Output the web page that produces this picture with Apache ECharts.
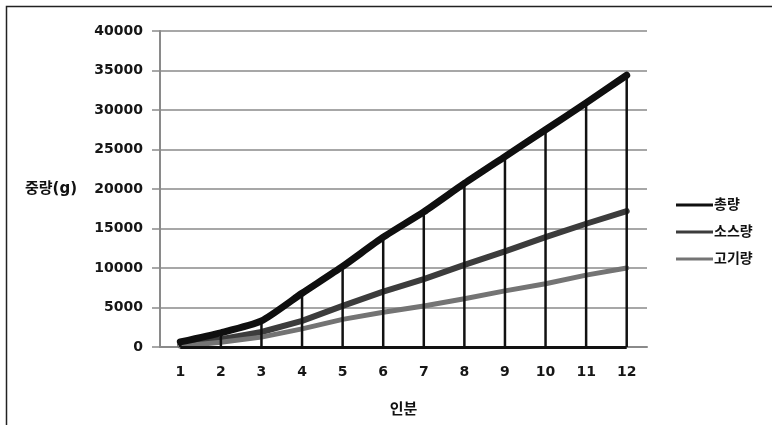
<!DOCTYPE html>
<html>
<head>
<meta charset="utf-8">
<script src="https://cdn.jsdelivr.net/npm/echarts@6/dist/echarts.min.js"></script>
<style>
  html, body { margin: 0; padding: 0; background: #fff; }
  #chart { width: 772px; height: 425px; }
</style>
</head>
<body>
<div id="chart"></div>
<script>
// 인분별 중량 (g)
const servings = ['1', '2', '3', '4', '5', '6', '7', '8', '9', '10', '11', '12'];
const totalWeight = [650, 1800, 3300, 6800, 10200, 13900, 17100, 20700, 24100, 27500, 30900, 34400];
const sauceWeight = [250, 1000, 1900, 3300, 5200, 7000, 8600, 10400, 12100, 13900, 15600, 17200];
const meatWeight = [100, 600, 1250, 2300, 3500, 4400, 5200, 6100, 7100, 8000, 9100, 10000];
const seriesNames = ['총량', '소스량', '고기량'];
const yTicks = { min: 0, max: 40000, step: 5000 };

const FONT = '"DejaVu Sans", "Noto Sans CJK KR", sans-serif';
const chart = echarts.init(document.getElementById('chart'), null, { renderer: 'canvas' });

chart.setOption({
  backgroundColor: '#ffffff',
  animation: false,
  textStyle: { fontFamily: FONT, color: '#111' },
  graphic: [{
    type: 'rect',
    shape: { x: 6.5, y: 6.5, width: 900, height: 600 },
    style: { fill: 'none', stroke: '#222', lineWidth: 1.5 },
    silent: true
  }],
  grid: { left: 160, right: 125, top: 31, bottom: 78 },
  legend: {
    orient: 'vertical',
    left: 671,
    top: 193,
    itemWidth: 37,
    itemHeight: 3,
    itemGap: 13,
    icon: 'rect',
    data: seriesNames,
    textStyle: { fontFamily: FONT, fontSize: 14, fontWeight: 'bold', color: '#111', padding: [0, 0, 0, -4] }
  },
  xAxis: {
    type: 'category',
    data: servings,
    boundaryGap: true,
    name: '인분',
    nameLocation: 'middle',
    nameGap: 56,
    nameTextStyle: { fontFamily: FONT, fontSize: 15, fontWeight: 'bold', color: '#111' },
    axisLine: { lineStyle: { color: '#8a8a8a', width: 2 } },
    axisTick: { show: false },
    axisLabel: { fontFamily: FONT, fontSize: 14, fontWeight: 'bold', color: '#161616', margin: 18 },
    splitLine: { show: false }
  },
  yAxis: {
    type: 'value',
    min: yTicks.min,
    max: yTicks.max,
    interval: yTicks.step,
    name: '중량(g)',
    nameLocation: 'middle',
    nameRotate: 0,
    nameGap: 83,
    nameTextStyle: { fontFamily: FONT, fontSize: 15, fontWeight: 'bold', color: '#111', align: 'right' },
    axisLine: { show: true, lineStyle: { color: '#8a8a8a', width: 2 } },
    axisTick: { show: true, length: 8, lineStyle: { color: '#8a8a8a', width: 1.5 } },
    axisLabel: {
      fontFamily: FONT, fontSize: 14, fontWeight: 'bold', color: '#161616', margin: 17,
      formatter: (v) => String(v)
    },
    splitLine: { show: true, lineStyle: { color: '#8a8a8a', width: 1.5 } }
  },
  series: [
    {
      name: '소스량',
      type: 'line',
      data: sauceWeight,
      symbol: 'none',
      color: '#3c3c3c',
      lineStyle: { width: 6, cap: 'round', join: 'round' },
      z: 3
    },
    {
      name: '고기량',
      type: 'line',
      data: meatWeight,
      symbol: 'none',
      color: '#747474',
      lineStyle: { width: 5, cap: 'round', join: 'round' },
      z: 3
    },
    {
      // 총량에서 가로축까지 내리는 수직선
      name: 'drop',
      type: 'bar',
      data: totalWeight,
      barWidth: 2.5,
      itemStyle: { color: '#111' },
      silent: true,
      z: 4,
      markLine: {
        silent: true,
        symbol: 'none',
        label: { show: false },
        lineStyle: { color: '#111', width: 3, type: 'solid' },
        data: [[{ coord: [servings[0], 0] }, { coord: [servings[servings.length - 1], 0] }]]
      }
    },
    {
      name: '총량',
      type: 'line',
      data: totalWeight,
      symbol: 'none',
      smooth: 0.2,
      color: '#0f0f0f',
      lineStyle: { width: 7, cap: 'round', join: 'round' },
      z: 5
    }
  ]
});
</script>
</body>
</html>
